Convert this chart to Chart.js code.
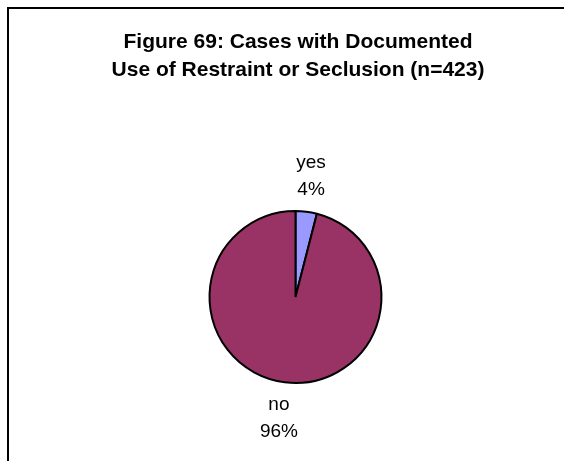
<!DOCTYPE html>
<html><head><meta charset="utf-8">
<script src="https://cdn.jsdelivr.net/npm/chart.js@4"></script>
<style>html,body{margin:0;padding:0;background:#fff;}#wrap{width:564px;height:461px;position:relative;}</style>
</head><body><div id="wrap"><canvas id="c" width="564" height="461"></canvas></div>
<script>
const titleLines = ['Figure 69: Cases with Documented', 'Use of Restraint or Seclusion (n=423)'];
const categories = ['yes', 'no'];
const percentValues = [4, 96];
const sliceColors = ['#9999FF', '#993366'];

const frame = {
  id: 'frame',
  beforeDraw(chart) {
    const ctx = chart.ctx;
    ctx.save();
    ctx.fillStyle = '#fff';
    ctx.fillRect(0, 0, chart.width, chart.height);
    ctx.strokeStyle = '#000';
    ctx.lineWidth = 2;
    ctx.beginPath();
    ctx.moveTo(8, chart.height + 2);
    ctx.lineTo(8, 8);
    ctx.lineTo(chart.width + 2, 8);
    ctx.stroke();
    ctx.restore();
  },
  afterDraw(chart) {
    const ctx = chart.ctx;
    ctx.save();
    ctx.fillStyle = '#000';
    ctx.textAlign = 'center';
    ctx.textBaseline = 'alphabetic';
    ctx.font = 'bold 21px "Liberation Sans", Arial, sans-serif';
    titleLines.forEach((t, i) => ctx.fillText(t, 298, 48 + i * 28));
    ctx.font = '19px "Liberation Sans", Arial, sans-serif';
    const meta = chart.getDatasetMeta(0);
    const lh = 27, H = 54;
    meta.data.forEach((arc, i) => {
      const mid = (arc.startAngle + arc.endAngle) / 2;
      const dx = Math.cos(mid), dy = Math.sin(mid);
      const d = arc.outerRadius + 8.5;
      const l1 = categories[i], l2 = percentValues[i] + '%';
      const W = Math.max(ctx.measureText(l1).width, ctx.measureText(l2).width);
      const cx = arc.x + dx * d + dx * W;
      const cy = arc.y + dy * d + dy * H / 2;
      const top = cy - H / 2;
      ctx.fillText(l1, cx, top + 19);
      ctx.fillText(l2, cx, top + 19 + lh);
    });
    ctx.restore();
  }
};

new Chart(document.getElementById('c'), {
  type: 'pie',
  data: {
    labels: categories,
    datasets: [{ data: percentValues, backgroundColor: sliceColors, borderColor: '#000', borderWidth: 2 }]
  },
  options: {
    responsive: false,
    animation: false,
    layout: { padding: { left: 208, right: 181, top: 210, bottom: 77 } },
    plugins: { legend: { display: false }, tooltip: { enabled: false }, title: { display: false } }
  },
  plugins: [frame]
});
</script></body></html>
